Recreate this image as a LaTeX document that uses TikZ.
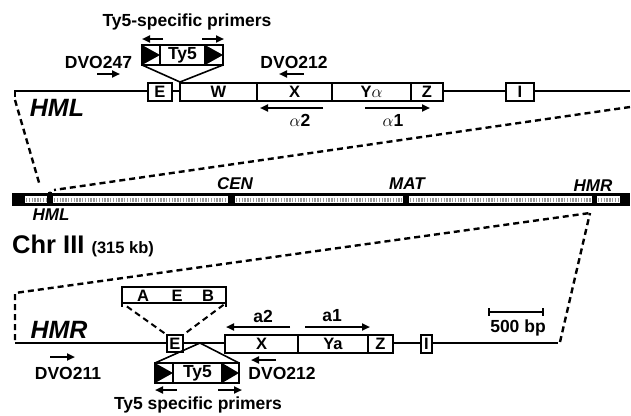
\documentclass[tikz,border=0pt]{standalone}
\usepackage{fontspec}
\setmainfont{Liberation Sans}
\usetikzlibrary{arrows.meta,positioning}
\newcommand\labfont{\fontsize{17.5}{19}\selectfont\bfseries}
\newcommand\genfont{\fontsize{16.5}{18}\selectfont\bfseries}
\newcommand\locfont{\fontsize{17}{19}\selectfont\bfseries\itshape}
\newcommand\bigloc{\fontsize{25}{27}\selectfont\bfseries\itshape}
\tikzset{
  gene/.style={draw,fill=white,line width=1.8pt,inner sep=0pt,outer sep=0pt,minimum height=18pt,font=\genfont},
  ltr/.style={draw,fill=white,line width=1.8pt,inner sep=0pt,outer sep=0pt,minimum height=20pt,minimum width=18pt},
  primer/.style={-{Triangle[length=8pt,width=7pt]},line width=2.2pt},
  zoomline/.style={line width=2.4pt,dash pattern=on 6pt off 4pt},
  dna/.style={line width=1.6pt}
}

\begin{document}
\begin{tikzpicture}[x=1pt,y=-1pt]
  \useasboundingbox (0,0) rectangle (631,415);

  % HML locus
  \draw[dna] (15,97) -- (15,91) -- (630,91);
  \node[font=\labfont] at (187,22) {Ty5-specific primers};
  \node[ltr] (ltrL1) at (151,55) {};
  \node[ltr,minimum width=45pt,font=\labfont] (ty5a) at (182.5,55) {Ty5};
  \node[ltr] (ltrR1) at (214,55) {};
  \fill (ltrL1.north west) -- (ltrL1.east) -- (ltrL1.south west) -- cycle;
  \fill (ltrR1.north west) -- (ltrR1.east) -- (ltrR1.south west) -- cycle;
  \draw[primer] (163,39) -- (142,39);
  \draw[primer] (202,39) -- (224,39);
  \coordinate (insA) at (180,82);
  \draw[line width=1.6pt] (ltrL1.south west) -- (insA) -- (ltrR1.south east);

  \node[gene,minimum width=24pt] (eL) at (160,92) {E};
  \node[gene,minimum width=77pt] (wL) at (218.5,92) {W};
  \node[gene,minimum width=75pt] (xL) at (294.5,92) {X};
  \node[gene,minimum width=79pt] (yL) at (371.5,92) {Y{\normalfont$\alpha$}};
  \node[gene,minimum width=32pt] (zL) at (427,92) {Z};
  \node[gene,minimum width=28pt] (iL) at (520,92) {I};

  \node[font=\labfont] (dvo247) at (98.5,62) {DVO247};
  \draw[primer] (97,74) -- (120,74);
  \node[font=\labfont] (dvo212a) at (294,62) {DVO212};
  \draw[primer] (304,74) -- (279,74);
  \node[font=\bigloc] at (57,108) {HML};
  \draw[primer] (323,108) -- (260,108);
  \node[font=\labfont] at (300,120) {{\normalfont$\alpha$}2};
  \draw[primer] (365,108) -- (430,108);
  \node[font=\labfont] at (393,120) {{\normalfont$\alpha$}1};

  % chromosome III
  \draw[zoomline] (15,100) -- (40,186);
  \draw[zoomline] (630,107) -- (54,190);
  \fill (12,193) rectangle (630,206);
  \foreach \a/\b in {25/47,53/228,235/403,409/592,597/620}{
    \fill[white] (\a,196) rectangle (\b,203);
    \draw[line width=4pt,dash pattern=on 1.3pt off 1.5pt,black!40] (\a+1,199.5) -- (\b-1,199.5);
  }
  \fill (50,194) circle (2.5pt);
  \node[font=\locfont] at (235,184) {CEN};
  \node[font=\locfont] at (407,184) {MAT};
  \node[font=\locfont] at (593,186) {HMR};
  \node[font=\locfont] at (51,215) {HML};
  \node[anchor=base west,font=\fontsize{25.5}{27}\selectfont\bfseries,inner sep=0pt] at (12,253)
    {Chr III {\fontsize{16.5}{18}\selectfont(315 kb)}};

  % HMR locus
  \draw[zoomline] (15,340) -- (15,293) -- (590,213);
  \draw[zoomline] (560,342) -- (590,213);
  \draw[dna] (15,343) -- (558,343);
  \node[gene,minimum width=104pt,minimum height=16pt] (aeb) at (174,295) {};
  \node[font=\genfont] at (143,296) {A};
  \node[font=\genfont] at (177,296) {E};
  \node[font=\genfont] at (208,296) {B};
  \draw[line width=1.8pt] (aeb.south west) -- ++(0,4);
  \draw[line width=1.8pt] (aeb.south east) -- ++(0,4);

  \node[gene,minimum width=16pt,minimum height=17pt] (eR) at (175,343.5) {E};
  \node[gene,minimum width=73pt] (xR) at (261.5,344) {X};
  \node[gene,minimum width=70pt] (yR) at (333,344) {Ya};
  \node[gene,minimum width=25pt] (zR) at (380.5,344) {Z};
  \node[gene,minimum width=11pt] (iR) at (426.5,344) {I};
  \draw[zoomline,line width=2pt,shorten <=6pt,shorten >=2pt] (aeb.south west) -- (eR.north west);
  \draw[zoomline,line width=2pt,shorten <=3pt,shorten >=2pt] (aeb.south east) -- (eR.north east);

  \node[ltr] (ltrL2) at (164,373) {};
  \node[ltr,minimum width=49pt,font=\labfont] (ty5b) at (197.5,373) {Ty5};
  \node[ltr,minimum width=17pt] (ltrR2) at (230.5,373) {};
  \fill (ltrL2.north west) -- (ltrL2.east) -- (ltrL2.south west) -- cycle;
  \fill (ltrR2.north west) -- (ltrR2.east) -- (ltrR2.south west) -- cycle;
  \coordinate (insB) at (200,343);
  \draw[line width=1.6pt] (ltrL2.north west) -- (insB) -- (ltrR2.north east);
  \draw[primer] (177,390) -- (155,390);
  \draw[primer] (218,390) -- (242,390);
  \node[font=\labfont] at (198,405) {Ty5 specific primers};

  \node[font=\labfont] at (263,316) {a2};
  \draw[primer] (290,327) -- (226,327);
  \node[font=\labfont] at (332,316) {a1};
  \draw[primer] (305,327) -- (370,327);
  \node[font=\bigloc] at (59,330) {HMR};
  \node[font=\labfont] (dvo211) at (68,373) {DVO211};
  \draw[primer] (50,357) -- (75,357);
  \node[font=\labfont] (dvo212b) at (282,373) {DVO212};
  \draw[primer] (276,360) -- (251,360);

  % scale bar
  \draw[line width=1.8pt] (489,308) -- (489,316) (489,312) -- (543,312) (543,308) -- (543,316);
  \node[font=\labfont] at (518,328) {500 bp};
\end{tikzpicture}
\end{document}
